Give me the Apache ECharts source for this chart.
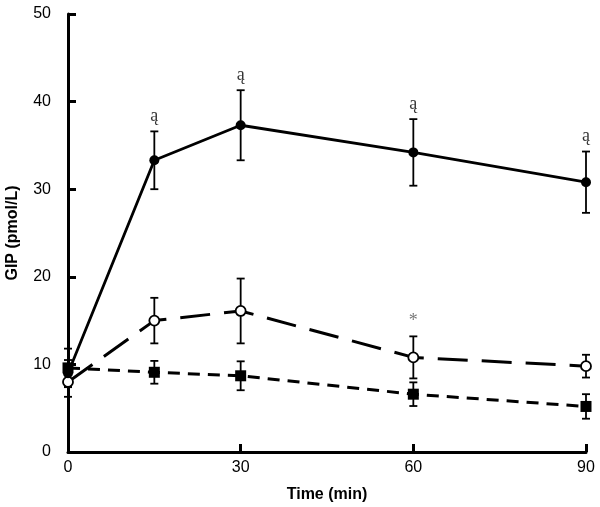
<!DOCTYPE html>
<html><head><meta charset="utf-8">
<script src="https://cdn.jsdelivr.net/npm/echarts@6/dist/echarts.min.js"></script>
<style>html,body{margin:0;padding:0;background:#fff}#c{width:600px;height:507px}</style>
</head><body><div id="c"></div>
<script>
const times = [0, 15, 30, 60, 90];
const solidMean = [9.0, 33.3, 37.3, 34.2, 30.8];
const solidSem = [1.5, 3.3, 4.0, 3.8, 3.5];
const openMean = [8.0, 15.0, 16.1, 10.8, 9.8];
const openSem = [1.7, 2.6, 3.7, 2.4, 1.3];
const squareMean = [9.6, 9.1, 8.7, 6.6, 5.2];
const squareSem = [2.2, 1.3, 1.65, 1.35, 1.4];
const solidMarks = ['', 'ą', 'ą', 'ą', 'ą'];
const openMarks = ['', '', '', '*', ''];
const xTicks = [0, 30, 60, 90];
const yTicks = [0, 10, 20, 30, 40, 50];

const FONT = 'Liberation Sans, Arial, sans-serif';

function errSeries(mean, sem) {
  return {
    type: 'custom', z: 3, clip: false, silent: true,
    data: times.map((t, i) => [t, mean[i] - sem[i], mean[i] + sem[i]]),
    renderItem(params, api) {
      const x = api.value(0);
      const lo = api.coord([x, api.value(1)]);
      const hi = api.coord([x, api.value(2)]);
      const w = 4;
      const st = {stroke: '#000', lineWidth: 1.8};
      return {type: 'group', children: [
        {type: 'line', shape: {x1: lo[0], y1: lo[1], x2: hi[0], y2: hi[1]}, style: st},
        {type: 'line', shape: {x1: lo[0]-w, y1: lo[1], x2: lo[0]+w, y2: lo[1]}, style: st},
        {type: 'line', shape: {x1: hi[0]-w, y1: hi[1], x2: hi[0]+w, y2: hi[1]}, style: st}
      ]};
    }
  };
}
function markSeries(mean, sem, marks, color, size) {
  const d = [];
  times.forEach((t, i) => { if (marks[i]) d.push({value: [t, mean[i] + sem[i]], m: marks[i]}); });
  return {
    type: 'scatter', symbolSize: 0, z: 5, silent: true, clip: false,
    data: d,
    label: {show: true, position: 'top', distance: 6, formatter: p => p.data.m,
      fontFamily: 'Liberation Serif, Times New Roman, serif', fontSize: size, color: color}
  };
}

const chart = echarts.init(document.getElementById('c'), null, {renderer: 'canvas'});
chart.setOption({
  animation: false,
  backgroundColor: '#fff',
  grid: {left: 68, right: 14, top: 14, bottom: 55, containLabel: false, outerBoundsMode: 'none'},
  xAxis: {
    type: 'value', min: 0, max: 90, interval: 30,
    name: 'Time (min)', nameLocation: 'middle', nameGap: 35,
    nameTextStyle: {fontFamily: FONT, fontSize: 16, fontWeight: 'bold', color: '#000'},
    axisLine: {lineStyle: {color: '#000', width: 3}},
    axisTick: {inside: true, length: 8, lineStyle: {color: '#000', width: 3}},
    axisLabel: {fontFamily: FONT, fontSize: 16, color: '#000', margin: 8,
      formatter: v => xTicks.includes(v) ? String(v) : ''},
    splitLine: {show: false}
  },
  yAxis: {
    type: 'value', min: 0, max: 50, interval: 10,
    name: 'GIP (pmol/L)', nameLocation: 'middle', nameGap: 47,
    nameTextStyle: {fontFamily: FONT, fontSize: 16, fontWeight: 'bold', color: '#000'},
    axisLine: {lineStyle: {color: '#000', width: 3}},
    axisTick: {inside: true, length: 8, lineStyle: {color: '#000', width: 3}},
    axisLabel: {fontFamily: FONT, fontSize: 16, color: '#000', margin: 17,
      formatter: v => yTicks.includes(v) ? String(v) : ''},
    splitLine: {show: false}
  },
  series: [
    errSeries(solidMean, solidSem),
    errSeries(openMean, openSem),
    errSeries(squareMean, squareSem),
    {
      type: 'line', z: 4, clip: false,
      data: times.map((t, i) => [t, squareMean[i]]),
      symbol: 'rect', symbolSize: 11,
      lineStyle: {color: '#000', width: 3, type: [12, 8]},
      itemStyle: {color: '#000'}
    },
    {
      type: 'line', z: 4, clip: false,
      data: times.map((t, i) => [t, openMean[i]]),
      symbol: 'circle', symbolSize: 10, showAllSymbol: true,
      lineStyle: {color: '#000', width: 3, type: [30, 14]},
      itemStyle: {color: '#fff', borderColor: '#000', borderWidth: 1.8}
    },
    {
      type: 'line', z: 4, clip: false,
      data: times.map((t, i) => [t, solidMean[i]]),
      symbol: 'circle', symbolSize: 10,
      lineStyle: {color: '#000', width: 2.8},
      itemStyle: {color: '#000'}
    },
    markSeries(solidMean, solidSem, solidMarks, '#000', 18),
    markSeries(openMean, openSem, openMarks, '#555', 18)
  ]
});
</script>
</body></html>
